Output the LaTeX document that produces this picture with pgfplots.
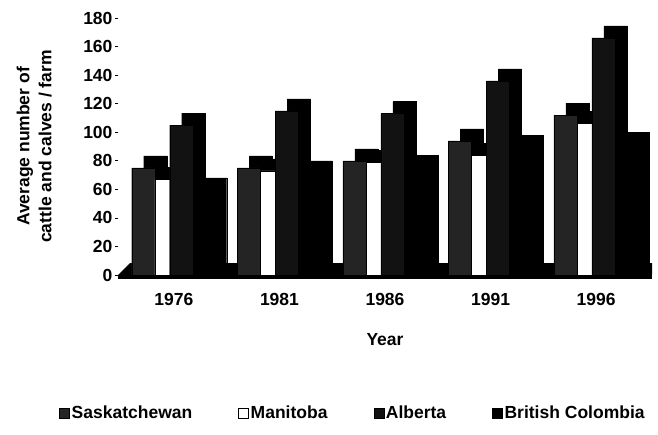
\documentclass[border=0pt]{standalone}
\usepackage{pgfplots}
\pgfplotsset{compat=1.18}
\usepackage{pgfplotstable}
\usepackage{fontspec}
\setmainfont{Liberation Sans}

% Average number of cattle and calves per farm
\pgfplotstableread{
x sask man alb bc
0 75 67 105 68
1 75 73 115 80
2 80 79 113 84
3 94 84 136 98
4 112 106 166 100
}\cattle

% depth offset of the pseudo-3D columns
\def\dx{12pt}
\def\dy{12pt}

\begin{document}
\begin{tikzpicture}[font=\bfseries\fontsize{17.5}{20}\selectfont]
\path[use as bounding box] (-118pt,-159pt) rectangle (540pt,275pt);
\begin{axis}[
  at={(0pt,0pt)}, anchor=south west, scale only axis,
  width=534pt, height=257pt,
  xmin=-0.53, xmax=4.53, ymin=0, ymax=180,
  clip=false,
  xtick={0,...,4}, xticklabels={1976,1981,1986,1991,1996},
  ytick={0,20,...,180},
  ytick pos=left, xtick pos=bottom,
  axis line style={draw=none},
  x tick style={draw=none},
  y tick style={black, line width=0.7pt},
  tick align=outside, major tick length=3pt,
  /pgf/number format/assume math mode=true,
  tick label style={font=\bfseries\fontsize{17.5}{20}\selectfont},
  xticklabel style={yshift=-12pt},
  yticklabel style={xshift=1pt},
  xlabel={Year},
  xlabel style={at={(axis description cs:0.5,-0.253)}, anchor=center},
  ylabel={Average number of\\cattle and calves / farm},
  ylabel style={align=center, at={(axis description cs:-0.157,0.5)}, anchor=center,
    font=\bfseries\fontsize{17.5}{22}\selectfont},
  legend style={at={(axis description cs:0.44,-0.537)}, anchor=center,
    draw=none, fill=none, legend columns=4,
    font=\bfseries\fontsize{17.5}{20}\selectfont,
    /tikz/every even column/.append style={column sep=44pt}},
  legend image code/.code={\draw[#1] (0pt,-5pt) rectangle (10pt,5pt);},
]
% floor of the chart
\fill[black] ([yshift=-4pt]axis cs:-0.53,0) rectangle (axis cs:4.53,0);
\fill[black] (axis cs:-0.53,0) -- (axis cs:4.53,0)
  -- ([yshift=\dy]axis cs:4.53,0) -- ([xshift=\dx,yshift=\dy]axis cs:-0.53,0) -- cycle;

% Saskatchewan
\addplot[ybar, bar width=0.22, bar shift=-0.29, fill=black, draw=black,
  xshift=\dx, yshift=\dy, forget plot] table[x=x,y=sask]{\cattle};
\addplot[ybar, bar width=0.22, bar shift=-0.29, fill=black!86, draw=black]
  table[x=x,y=sask]{\cattle};
\addlegendentry{Saskatchewan}
% Manitoba
\addplot[ybar, bar width=0.14, bar shift=-0.11, fill=black, draw=black,
  xshift=\dx, yshift=\dy, forget plot] table[x=x,y=man]{\cattle};
\addplot[ybar, bar width=0.14, bar shift=-0.11, fill=white, draw=black]
  table[x=x,y=man]{\cattle};
\addlegendentry{Manitoba}
% British Colombia (partly hidden behind the side of the Alberta column)
\addplot[ybar, bar width=0.20, bar shift=0.40, fill=black, draw=black,
  forget plot] table[x=x,y=bc]{\cattle};
% Alberta
\addplot[ybar, bar width=0.22, bar shift=0.07, fill=black, draw=black,
  xshift=\dx, yshift=\dy, forget plot] table[x=x,y=alb]{\cattle};
\addplot[ybar, bar width=0.22, bar shift=0.07, fill=black!93, draw=black]
  table[x=x,y=alb]{\cattle};
\addlegendentry{Alberta}
\addlegendimage{fill=black, draw=black}
\addlegendentry{British Colombia}
\end{axis}
\end{tikzpicture}
\end{document}
